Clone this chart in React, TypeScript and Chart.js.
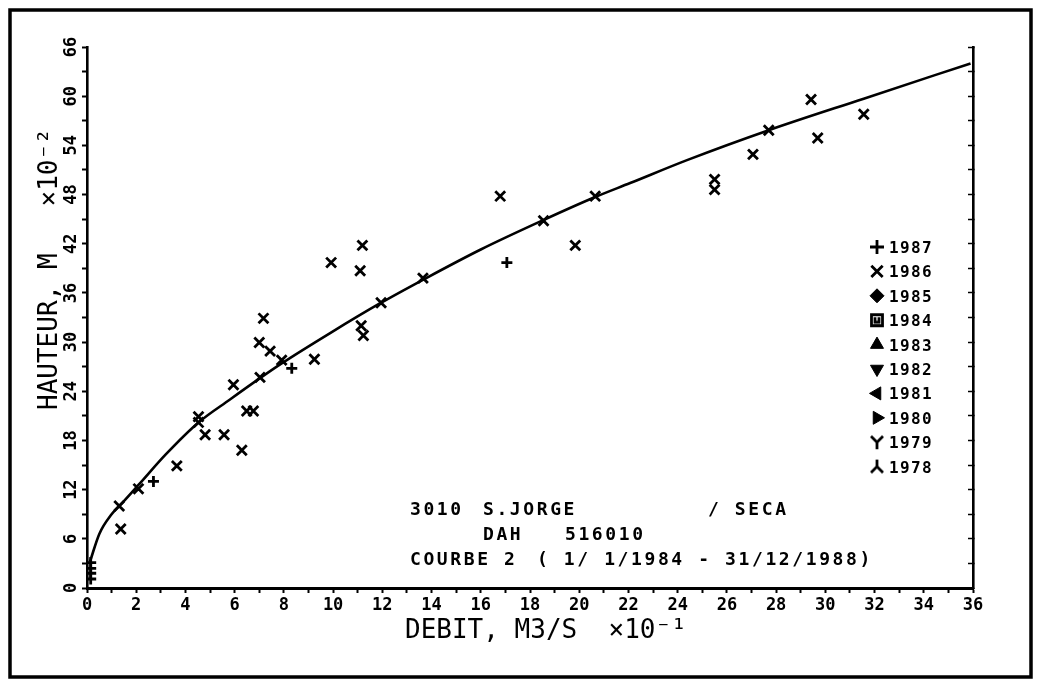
import React, { useEffect, useRef } from "react";
import { Chart, registerables } from "chart.js";
import { drawPoint } from "chart.js/helpers";

Chart.register(...registerables);

// ---- Data (discharge Q ×10⁻¹ m3/s, height H ×10⁻² m) ----
const curveQ = [0.12, 0.5, 1.0, 1.5, 2.1, 3.2, 4.53, 5.81, 7.03, 7.91, 9.88, 11.95, 13.65, 16.0, 18.55, 20.65, 22.07, 24.38, 27.7, 31.56, 35.9];
const curveH = [3.2, 6.6, 9.0, 10.6, 12.6, 16.3, 20.2, 23.0, 25.6, 27.4, 31.1, 34.8, 37.6, 41.3, 44.9, 47.7, 49.4, 52.2, 55.85, 59.7, 64.0];

const q1987 = [0.15, 0.15, 0.15, 0.15, 2.7, 8.32, 17.06];
const h1987 = [1.1, 1.8, 2.4, 3.1, 13.0, 26.8, 39.7];

const q1986 = [1.31, 1.37, 2.09, 3.65, 4.53, 4.53, 4.8, 5.57, 5.95, 6.29, 6.49, 6.76, 7.03, 7.0, 7.17, 7.44, 7.91, 9.24, 9.92, 11.19, 11.1, 11.14, 11.23, 11.95, 13.65, 16.79, 18.55, 19.84, 20.65, 25.5, 25.5, 27.06, 27.7, 29.42, 29.69, 31.56];
const h1986 = [10.0, 7.2, 12.1, 14.9, 20.9, 20.2, 18.7, 18.7, 24.8, 16.8, 21.6, 21.6, 25.7, 29.95, 32.9, 28.9, 27.8, 27.9, 39.7, 41.8, 38.7, 32.0, 30.8, 34.8, 37.8, 47.8, 44.8, 41.8, 47.8, 49.85, 48.6, 52.9, 55.85, 59.6, 54.9, 57.8];

const legendYears = ["1987", "1986", "1985", "1984", "1983", "1982", "1981", "1980", "1979", "1978"];

const xTitle = "DEBIT, M3/S  ×10⁻¹";
const yTitle = "HAUTEUR, M   ×10⁻²";

const noteRow1 = ["3010", "S.JORGE", "/ SECA"];
const noteRow2 = ["DAH", "516010"];
const noteRow3 = ["COURBE 2", "( 1/ 1/1984 - 31/12/1988)"];

const MONO = "'DejaVu Sans Mono', monospace";

function makeSymbol(kind: string): HTMLCanvasElement {
  const c = document.createElement("canvas");
  c.width = 16;
  c.height = 16;
  const g = c.getContext("2d")!;
  g.strokeStyle = "#000";
  g.lineWidth = 2.8;
  g.lineCap = "butt";
  g.beginPath();
  if (kind === "Y") {
    g.moveTo(2, 2); g.lineTo(8, 8);
    g.moveTo(14, 2); g.lineTo(8, 8);
    g.lineTo(8, 15);
  } else if (kind === "L") {
    g.moveTo(8, 1); g.lineTo(8, 8);
    g.lineTo(2, 14);
    g.moveTo(8, 8); g.lineTo(14, 14);
  } else {
    g.rect(2.5, 2.5, 11, 11);
    g.moveTo(6, 5); g.lineTo(6, 10); g.lineTo(10, 10); g.lineTo(10, 5);
  }
  g.stroke();
  return c;
}

const textPlugin = {
  id: "plotterText",
  beforeDraw(chart: any) {
    const ctx = chart.ctx as CanvasRenderingContext2D;
    ctx.save();
    ctx.strokeStyle = "#000";
    ctx.lineWidth = 3.5;
    ctx.strokeRect(10, 10, 1021, 667);
    ctx.restore();
  },
  afterDraw(chart: any) {
    const ctx = chart.ctx as any;
    ctx.save();
    ctx.fillStyle = "#000";
    ctx.strokeStyle = "#000";

    // axis titles
    ctx.font = `26px ${MONO}`;
    ctx.textBaseline = "alphabetic";
    ctx.textAlign = "left";
    ctx.fillText(xTitle, 405, 638);
    ctx.save();
    ctx.translate(57, 410);
    ctx.rotate(-Math.PI / 2);
    ctx.fillText(yTitle, 0, 0);
    ctx.restore();

    // station note
    ctx.font = `bold 18px ${MONO}`;
    ctx.letterSpacing = "2.6px";
    ctx.fillText(noteRow1[0], 410, 515);
    ctx.fillText(noteRow1[1], 483, 515);
    ctx.fillText(noteRow1[2], 708, 515);
    ctx.fillText(noteRow2[0], 483, 540);
    ctx.fillText(noteRow2[1], 565, 540);
    ctx.fillText(noteRow3[0], 410, 565);
    ctx.fillText(noteRow3[1], 537, 565);

    // legend
    ctx.font = `bold 16px ${MONO}`;
    ctx.letterSpacing = "1.4px";
    const ds = chart.data.datasets.filter((d: any) => d.label);
    ds.forEach((d: any, i: number) => {
      const base = 253 + i * 24.4;
      const cy = base - 6;
      ctx.lineWidth = d.pointBorderWidth ?? 2.4;
      drawPoint(ctx, {
        pointStyle: d.pointStyle,
        rotation: d.pointRotation || 0,
        radius: d.legendRadius ?? 7,
        borderWidth: d.pointBorderWidth ?? 1,
      } as any, 877, cy);
      ctx.fillText(d.label, 889, base);
    });
    ctx.restore();
  },
};

export default function App() {
  const ref = useRef<HTMLCanvasElement | null>(null);

  useEffect(() => {
    const canvas = ref.current;
    if (!canvas) return;
    const symY = makeSymbol("Y");
    const symL = makeSymbol("L");
    const symBox = makeSymbol("B");

    const tickFont = { family: MONO, size: 17, weight: "bold" as const };
    const grid = {
      drawOnChartArea: false,
      drawTicks: true,
      tickLength: 5,
      tickWidth: 2,
      tickColor: "#000",
    };

    const empty = (label: string, pointStyle: any, rotation = 0, radius = 7.5) => ({
      label,
      data: [] as any[],
      pointStyle,
      pointRotation: rotation,
      legendRadius: radius,
      pointBorderWidth: 1,
      borderColor: "#000",
      backgroundColor: "#000",
      showLine: false,
    });

    const chart = new Chart(canvas, {
      type: "scatter",
      data: {
        datasets: [
          {
            type: "line",
            data: curveQ.map((q, i) => ({ x: q, y: curveH[i] })),
            borderColor: "#000",
            borderWidth: 2.6,
            pointRadius: 0,
            cubicInterpolationMode: "monotone",
            fill: false,
          } as any,
          {
            label: legendYears[0],
            data: q1987.map((q, i) => ({ x: q, y: h1987[i] })),
            pointStyle: "cross",
            pointRadius: 5.5,
            legendRadius: 7,
            pointBorderWidth: 2.8,
            borderColor: "#000",
            backgroundColor: "#000",
            showLine: false,
          },
          {
            label: legendYears[1],
            data: q1986.map((q, i) => ({ x: q, y: h1986[i] })),
            pointStyle: "crossRot",
            pointRadius: 7,
            legendRadius: 8,
            pointBorderWidth: 2.8,
            borderColor: "#000",
            backgroundColor: "#000",
            showLine: false,
          },
          empty(legendYears[2], "rectRot", 0, 7),
          empty(legendYears[3], symBox),
          empty(legendYears[4], "triangle", 0, 7.5),
          empty(legendYears[5], "triangle", 180, 7.5),
          empty(legendYears[6], "triangle", -90, 7.5),
          empty(legendYears[7], "triangle", 90, 7.5),
          empty(legendYears[8], symY),
          empty(legendYears[9], symL),
        ] as any,
      },
      options: {
        animation: false,
        responsive: false,
        devicePixelRatio: 1,
        layout: { padding: { left: 27, top: 47, right: 66, bottom: 66 } },
        plugins: { legend: { display: false }, tooltip: { enabled: false } },
        scales: {
          x: {
            type: "linear",
            position: "bottom",
            min: 0,
            max: 36,
            ticks: {
              stepSize: 1,
              autoSkip: false,
              minRotation: 0,
              maxRotation: 0,
              padding: 2,
              color: "#000",
              font: tickFont,
              callback: (v: any) => (Number(v) % 2 === 0 ? String(v) : ""),
            },
            grid,
            border: { display: true, color: "#000", width: 3 },
            afterFit: (s: any) => {
              s.height = 30;
            },
          },
          y: {
            type: "linear",
            position: "left",
            min: 0,
            max: 66,
            ticks: {
              stepSize: 3,
              autoSkip: false,
              minRotation: 90,
              maxRotation: 90,
              crossAlign: "center",
              padding: 0,
              color: "#000",
              font: tickFont,
              callback: (v: any) => (Number(v) % 6 === 0 ? String(v) : ""),
            },
            grid,
            border: { display: true, color: "#000", width: 2.6 },
            afterFit: (s: any) => {
              s.width = 60;
            },
          },
          yr: {
            type: "linear",
            position: "right",
            min: 0,
            max: 66,
            ticks: { stepSize: 3, display: false },
            grid: { drawOnChartArea: false, drawTicks: true, tickLength: -5, tickWidth: 1.5, tickColor: "#000" },
            border: { display: true, color: "#000", width: 2.6 },
            afterFit: (s: any) => {
              s.width = 0;
            },
          },
        },
      } as any,
      plugins: [textPlugin],
    });
    return () => chart.destroy();
  }, []);

  return (
    <div style={{ position: "fixed", left: 0, top: 0, width: 1039, height: 684, background: "#fff" }}>
      <canvas ref={ref} width={1039} height={684} style={{ display: "block" }} />
    </div>
  );
}
